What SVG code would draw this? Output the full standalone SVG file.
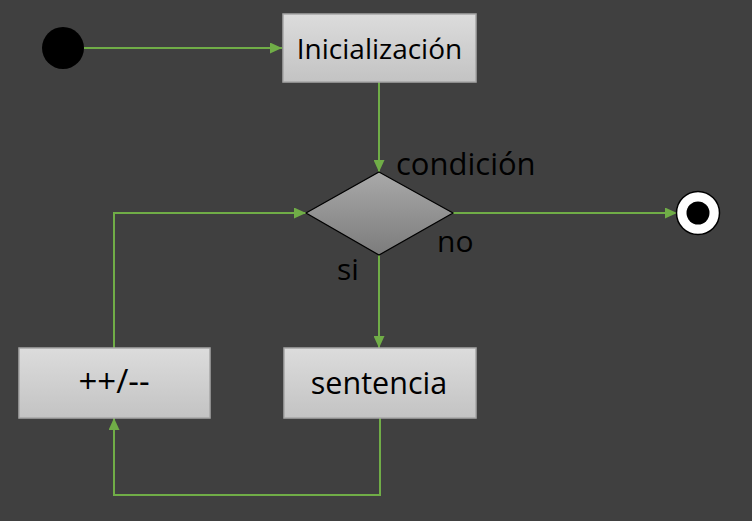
<svg xmlns="http://www.w3.org/2000/svg" width="752" height="521" viewBox="0 0 752 521">
<style>
.box{fill:url(#gBox);stroke:#a6a6a6;stroke-width:1.5}
.t{font-family:"Open Sans","Liberation Sans",sans-serif;fill:#000}
.bt{font-size:28px;text-anchor:middle}
.lb{font-size:30px}
.c{fill:none;stroke:#70ad47;stroke-width:2;marker-end:url(#ah)}
</style>
<defs>
<linearGradient id="gBox" x1="0" y1="0" x2="0" y2="1">
<stop offset="0" stop-color="#dcdcdc"/>
<stop offset="1" stop-color="#c3c3c3"/>
</linearGradient>
<linearGradient id="gDia" x1="0" y1="0" x2="0" y2="1">
<stop offset="0" stop-color="#a9a9a9"/>
<stop offset="1" stop-color="#7c7c7c"/>
</linearGradient>
<marker id="ah" viewBox="0 0 12 11" refX="12" refY="5.5" markerWidth="12" markerHeight="11" markerUnits="userSpaceOnUse" orient="auto">
<path d="M0,0 L12,5.5 L0,11 z" fill="#70ad47"/>
</marker>
</defs>
<rect width="752" height="521" fill="#404040"/>
<g id="connectors">
<path class="c" d="M84,48 H282"/>
<path class="c" d="M379,82 V172"/>
<path class="c" d="M453,213 H677"/>
<path class="c" d="M379,255 V348"/>
<path class="c" d="M380,418 V495 H114 V418"/>
<path class="c" d="M114,348 V213 H306"/>
</g>
<g id="start"><circle cx="63" cy="48" r="21" fill="#000"/></g>
<g id="init">
<rect class="box" x="283" y="14" width="193" height="68"/>
<text class="t bt" x="379.5" y="59">Inicialización</text>
</g>
<g id="cond">
<path d="M379,172 L453,213 L379,255 L306,213 z" fill="url(#gDia)" stroke="#000" stroke-width="1.2"/>
<text class="t lb" x="396" y="175" style="font-size:31px">condición</text>
<text class="t lb" x="437" y="252">no</text>
<text class="t lb" x="337" y="280">si</text>
</g>
<g id="sentencia">
<rect class="box" x="284" y="348" width="192" height="70"/>
<text class="t bt" x="379" y="394" style="font-size:30.5px">sentencia</text>
</g>
<g id="incdec">
<rect class="box" x="19" y="348" width="191" height="70"/>
<text class="t bt" x="114" y="393" style="font-size:33px">++/--</text>
</g>
<g id="end">
<circle cx="698" cy="213" r="21.5" fill="#fff" stroke="#000" stroke-width="1.5"/>
<circle cx="698" cy="213" r="11.5" fill="#000"/>
</g>
</svg>
